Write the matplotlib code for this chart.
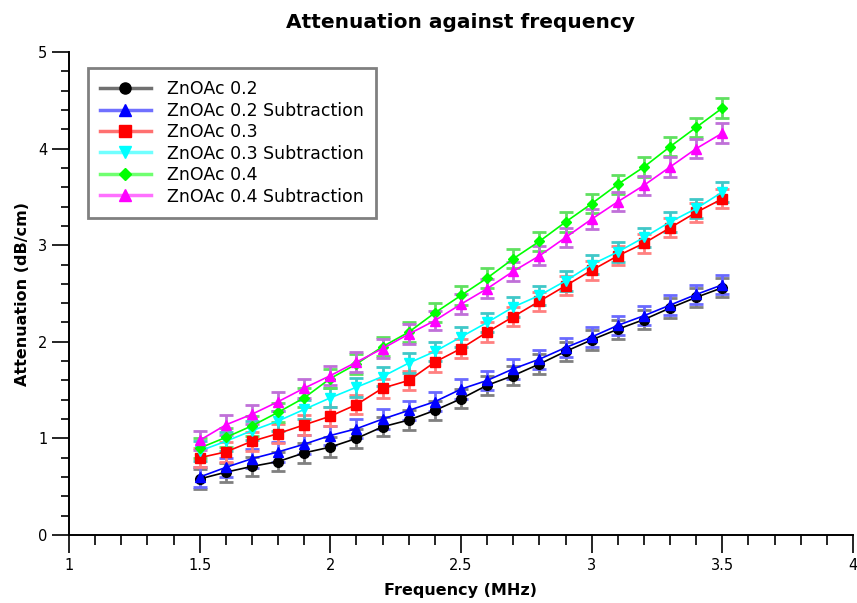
import matplotlib
matplotlib.use("Agg")
import matplotlib.pyplot as plt
from matplotlib.ticker import MultipleLocator
from matplotlib.lines import Line2D

freq = [1.5, 1.6, 1.7, 1.8, 1.9, 2.0, 2.1, 2.2, 2.3, 2.4, 2.5,
        2.6, 2.7, 2.8, 2.9, 3.0, 3.1, 3.2, 3.3, 3.4, 3.5]

zn02 = [0.58, 0.65, 0.71, 0.76, 0.85, 0.91, 1.00, 1.12, 1.19, 1.29, 1.41,
        1.55, 1.65, 1.77, 1.90, 2.02, 2.13, 2.23, 2.35, 2.46, 2.56]
zn02_sub = [0.60, 0.70, 0.79, 0.86, 0.94, 1.03, 1.10, 1.20, 1.29, 1.38, 1.51,
            1.60, 1.72, 1.82, 1.94, 2.05, 2.17, 2.27, 2.38, 2.49, 2.59]
zn03 = [0.80, 0.86, 0.97, 1.05, 1.14, 1.23, 1.35, 1.52, 1.60, 1.79, 1.93,
        2.10, 2.26, 2.42, 2.58, 2.74, 2.89, 3.02, 3.18, 3.34, 3.48]
zn03_sub = [0.87, 0.97, 1.08, 1.18, 1.30, 1.42, 1.53, 1.64, 1.78, 1.90, 2.05,
            2.20, 2.36, 2.48, 2.63, 2.80, 2.93, 3.08, 3.24, 3.38, 3.55]
zn04 = [0.90, 1.01, 1.13, 1.27, 1.42, 1.62, 1.77, 1.95, 2.10, 2.30, 2.48,
        2.66, 2.86, 3.04, 3.24, 3.43, 3.63, 3.81, 4.02, 4.22, 4.42]
zn04_sub = [0.98, 1.14, 1.25, 1.38, 1.52, 1.65, 1.79, 1.93, 2.08, 2.22, 2.39,
            2.55, 2.73, 2.89, 3.08, 3.27, 3.45, 3.62, 3.81, 4.00, 4.16]
error = 0.1

labels = ["ZnOAc 0.2", "ZnOAc 0.2 Subtraction", "ZnOAc 0.3",
          "ZnOAc 0.3 Subtraction", "ZnOAc 0.4", "ZnOAc 0.4 Subtraction"]
series = [zn02, zn02_sub, zn03, zn03_sub, zn04, zn04_sub]
colors = ["#000000", "#0000ff", "#ff0000", "#00ffff", "#00ff00", "#ff00ff"]
ecolors = ["#808080", "#6a6aff", "#ff8080", "#40c8c8", "#60e060", "#c070d8"]
lcolors = ["#707070", "#7070ff", "#ff7070", "#70ffff", "#70ff70", "#ff70ff"]
markers = ["o", "^", "s", "v", "D", "^"]
msizes = [7, 7, 7.5, 7, 5.5, 7]

plt.rcParams['font.family'] = ['DejaVu Sans']
fig = plt.figure(figsize=(8.57, 6.03), dpi=100)
ax = fig.add_axes([69/857, 1-535/603, (853-69)/857, (535-52)/603])

handles = []
for y, lab, c, ec, lc, m, ms in zip(series, labels, colors, ecolors, lcolors,
                                    markers, msizes):
    ax.errorbar(freq, y, yerr=error, color=c, marker=m, markersize=ms,
                linewidth=1.2, ecolor=ec, elinewidth=2, capsize=5, capthick=2)
    handles.append(Line2D([], [], color=lc, linewidth=2.5, marker=m,
                          markersize=ms + 1, markerfacecolor=c,
                          markeredgecolor=c, label=lab))

ax.set_xlim(1, 4)
ax.set_ylim(0, 5)
ax.xaxis.set_major_locator(MultipleLocator(0.5))
ax.xaxis.set_minor_locator(MultipleLocator(0.1))
ax.yaxis.set_major_locator(MultipleLocator(1))
ax.yaxis.set_minor_locator(MultipleLocator(0.2))
ax.xaxis.set_major_formatter(plt.FuncFormatter(lambda v, p: f"{v:g}"))
ax.yaxis.set_major_formatter(plt.FuncFormatter(lambda v, p: f"{v:g}"))
ax.tick_params(which='major', direction='out', length=12, width=1.2,
               labelsize=10.5, colors='black')
ax.tick_params(which='minor', direction='out', length=6, width=1.2)
ax.tick_params(axis='x', which='major', length=13)
ax.tick_params(axis='x', which='minor', length=7)
for s in ['top', 'right']:
    ax.spines[s].set_visible(False)
for s in ['left', 'bottom']:
    ax.spines[s].set_linewidth(1.4)

ax.set_title("Attenuation against frequency", fontsize=14.5,
             fontweight='bold', pad=17)
ax.set_xlabel("Frequency (MHz)", fontsize=11.5, fontweight='bold', labelpad=7)
ax.set_ylabel("Attenuation (dB/cm)", fontsize=11.5, fontweight='bold', labelpad=6)

leg = ax.legend(handles=handles, loc='upper left',
                bbox_to_anchor=(88/857, 1-68/603),
                bbox_transform=fig.transFigure, fontsize=12.5, frameon=True,
                fancybox=False, edgecolor='#606060', handlelength=2.9,
                labelspacing=0.2, borderpad=0.7, handletextpad=0.95,
                borderaxespad=0)
leg.get_frame().set_linewidth(2)

fig.savefig("out.png", dpi=100)
